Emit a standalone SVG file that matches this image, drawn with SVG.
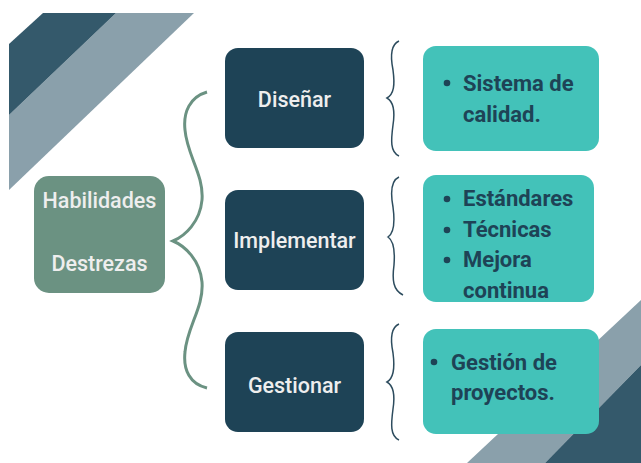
<svg xmlns="http://www.w3.org/2000/svg" width="641" height="463" viewBox="0 0 641 463">
<style>
.dark{fill:#34596b}
.light{fill:#8aa0ab}
.mid{fill:#1e4356}
.teal{fill:#43c2b9}
.root{fill:#6b9282}
.wt{font-family:Roboto,"Liberation Sans",sans-serif;font-weight:500;font-size:21.5px;fill:#eeeeee;text-anchor:middle}
.bt{font-family:Roboto,"Liberation Sans",sans-serif;font-weight:700;font-size:22px;fill:#1e4356}
.br{fill:none;stroke:#2d4c5e;stroke-width:1.5}
.bigbr{fill:none;stroke:#6b9282;stroke-width:3}
</style>
<rect width="641" height="463" fill="#ffffff"/>
<g id="decor">
<polygon class="light" points="116,13 194,13 9,190 9,115"/>
<polygon class="dark" points="9,44 43,13 116,13 9,115"/>
<polygon class="light" points="641,300 641,365 545,463 467,463"/>
<polygon class="dark" points="641,365 641,463 545,463"/>
</g>
<g id="connectors">
<path class="bigbr" d="M207,92 C190,97 183,112 185,130 C187,155 204,175 202,200 C200,222 185,236 173,241 C185,246 200,260 202,282 C204,307 187,327 185,352 C183,370 190,384 207,388"/>
<path class="br" d="M399,41 C390,45 391,60 393,70 C395,85 394,94 387,98 C394,102 395,112 393,125 C391,140 390,152 399,156"/>
<path class="br" d="M399,177 C390,181 391,196 393,207 C395,222 394,233 388,237 C394,241 395,252 394,265 C392,280 393,290 403,295"/>
<path class="br" d="M399,324 C390,328 391,343 393,353 C395,368 394,378 387,382 C394,386 395,396 393,409 C391,424 390,436 399,440"/>
</g>
<g id="root">
<rect class="root" x="34" y="176" width="131" height="117" rx="15"/>
<text class="wt" x="99.5" y="208">Habilidades</text>
<text class="wt" x="99.5" y="271">Destrezas</text>
</g>
<g id="disenar">
<rect class="mid" x="225" y="48" width="139" height="100" rx="13"/>
<text class="wt" x="294.5" y="107">Diseñar</text>
</g>
<g id="implementar">
<rect class="mid" x="225" y="190" width="139" height="100" rx="13"/>
<text class="wt" x="294.5" y="248">Implementar</text>
</g>
<g id="gestionar">
<rect class="mid" x="225" y="332" width="139" height="100" rx="13"/>
<text class="wt" x="294.5" y="393">Gestionar</text>
</g>
<g id="sistema">
<rect class="teal" x="423" y="46" width="176" height="105" rx="13"/>
<circle class="mid" cx="447" cy="83" r="3.3"/>
<text class="bt" x="463" y="91">Sistema de</text>
<text class="bt" x="463" y="122">calidad.</text>
</g>
<g id="estandares">
<rect class="teal" x="423" y="175" width="171" height="127" rx="13"/>
<circle class="mid" cx="447" cy="199" r="3.3"/>
<circle class="mid" cx="447" cy="230" r="3.3"/>
<circle class="mid" cx="447" cy="260" r="3.3"/>
<text class="bt" x="463" y="206">Estándares</text>
<text class="bt" x="463" y="237">Técnicas</text>
<text class="bt" x="463" y="267">Mejora</text>
<text class="bt" x="463" y="298">continua</text>
</g>
<g id="gestion">
<rect class="teal" x="423" y="329" width="176" height="105" rx="13"/>
<circle class="mid" cx="434" cy="362" r="3.3"/>
<text class="bt" x="451" y="370">Gestión de</text>
<text class="bt" x="451" y="400">proyectos.</text>
</g>
</svg>
